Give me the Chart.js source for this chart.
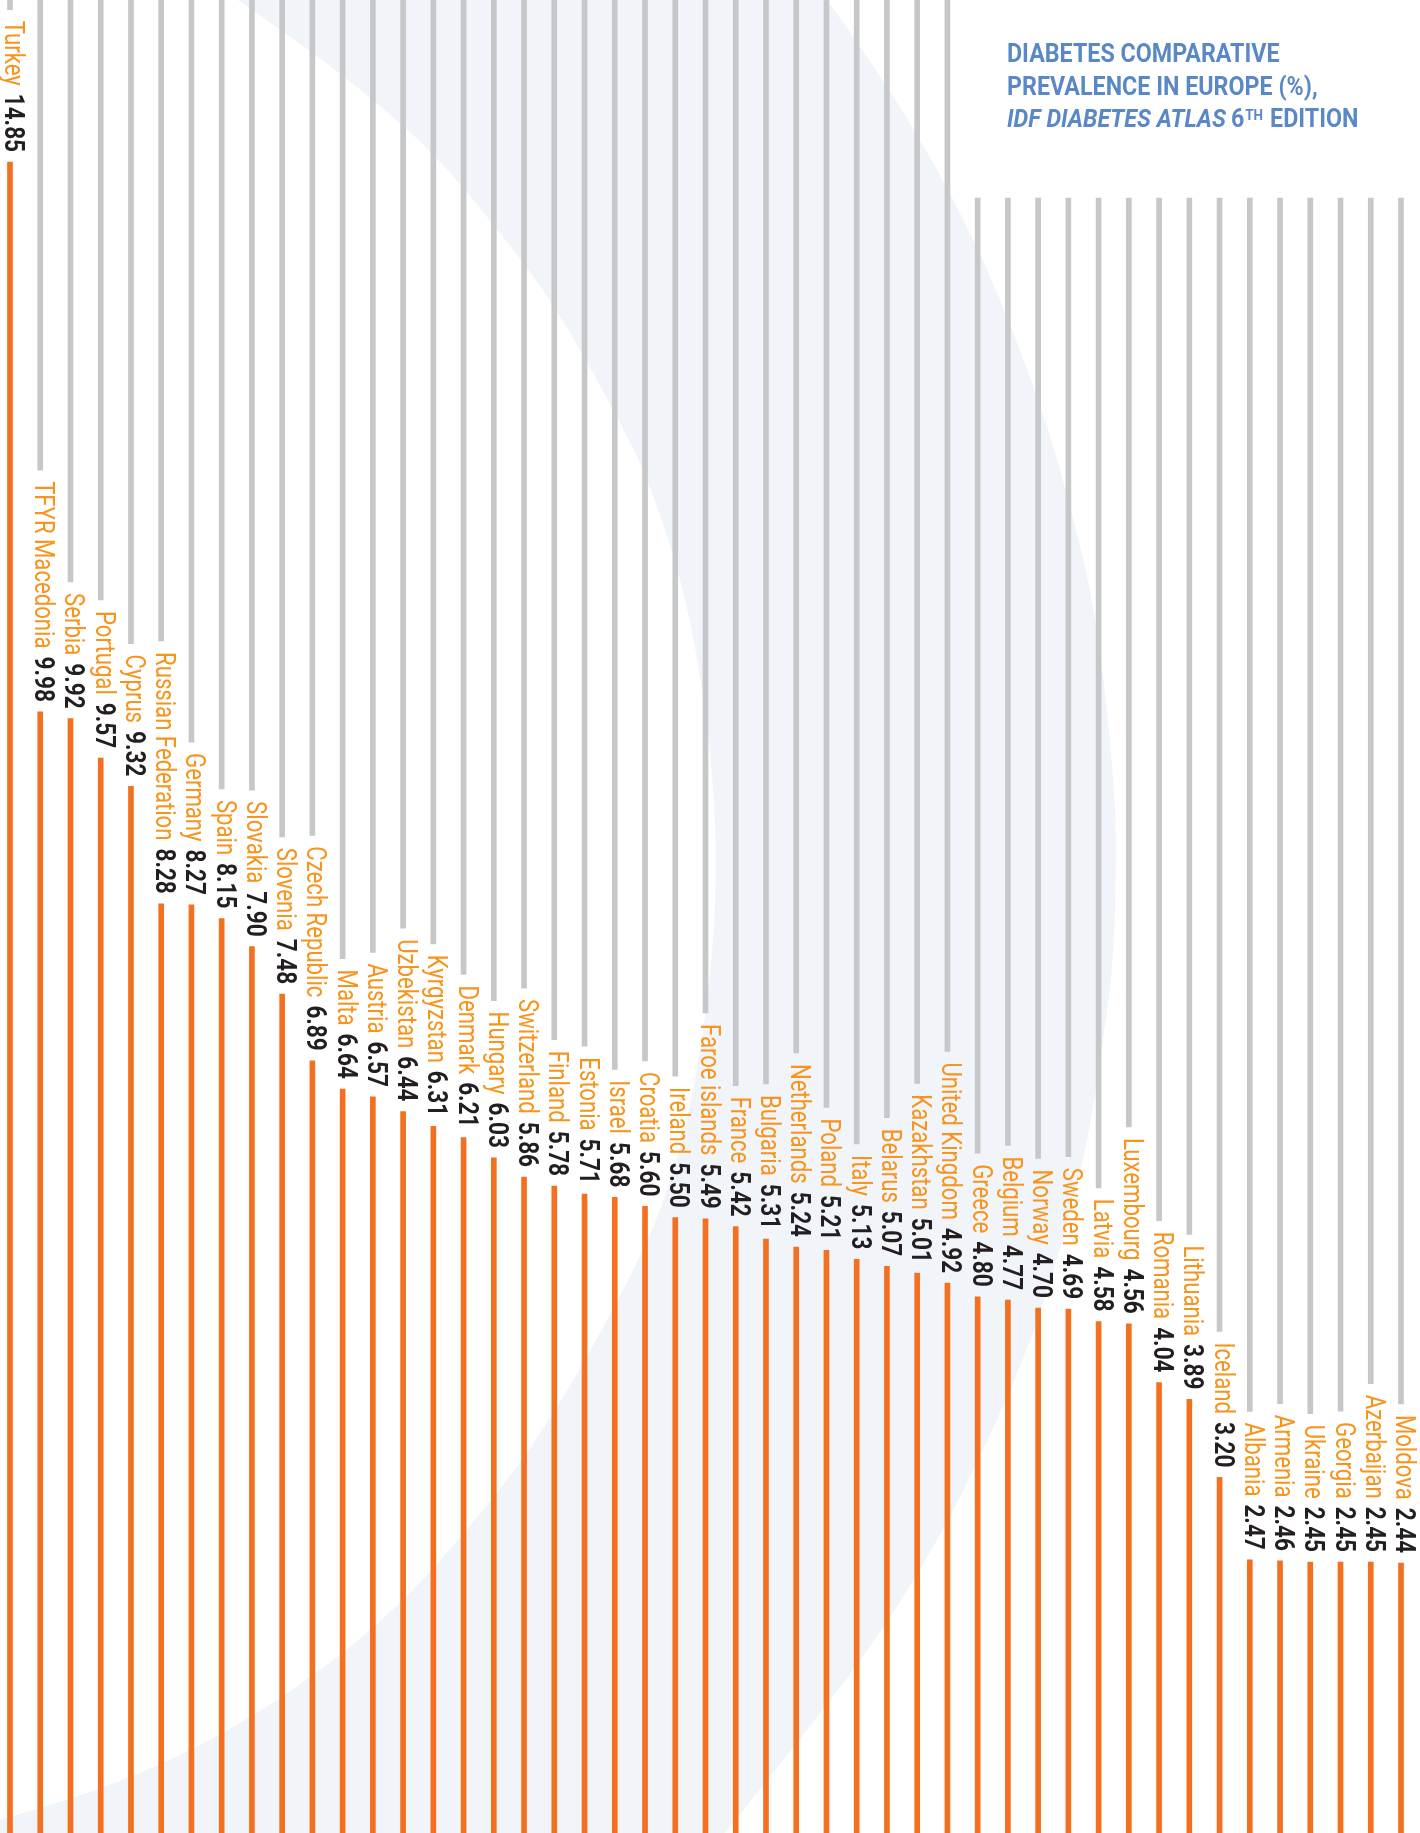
<!DOCTYPE html>
<html><head><meta charset="utf-8">
<script src="https://cdn.jsdelivr.net/npm/chart.js@4.4.1/dist/chart.umd.min.js"></script>
<style>html,body{margin:0;padding:0;background:#fff;overflow:hidden}#wrap{width:1420px;height:1833px;position:relative}</style>
</head><body><div id="wrap"><canvas id="c" width="1420" height="1833"></canvas></div>
<script>
// ---------- data ----------
const countries = ['Turkey','TFYR Macedonia','Serbia','Portugal','Cyprus','Russian Federation','Germany','Spain','Slovakia','Slovenia','Czech Republic','Malta','Austria','Uzbekistan','Kyrgyzstan','Denmark','Hungary','Switzerland','Finland','Estonia','Israel','Croatia','Ireland','Faroe islands','France','Bulgaria','Netherlands','Poland','Italy','Belarus','Kazakhstan','United Kingdom','Greece','Belgium','Norway','Sweden','Latvia','Luxembourg','Romania','Lithuania','Iceland','Albania','Armenia','Ukraine','Georgia','Azerbaijan','Moldova'];
const prevalence = [14.85,9.98,9.92,9.57,9.32,8.28,8.27,8.15,7.90,7.48,6.89,6.64,6.57,6.44,6.31,6.21,6.03,5.86,5.78,5.71,5.68,5.60,5.50,5.49,5.42,5.31,5.24,5.21,5.13,5.07,5.01,4.92,4.80,4.77,4.70,4.69,4.58,4.56,4.04,3.89,3.20,2.47,2.46,2.45,2.45,2.45,2.44];
const titleLines = ['DIABETES COMPARATIVE','PREVALENCE IN EUROPE (%),'];
const titleItalic = 'IDF DIABETES ATLAS';
const titleEditionNum = '6';
const titleEditionSup = 'TH';
const titleEditionRest = 'EDITION';
const shortLineFrom = 'Greece';   // grey guide lines from here on start lower
const shortLineTop = 14.53;       // value level where those guide lines start
const yMin = 0.05, yMax = 16.285;

// ---------- styles ----------
const ORANGE = '#f37021', NAME_COL = '#f7941d', VALUE_COL = '#231f20', GREY = '#c6c7c9', BLUE = '#5a88c7', SWOOSH = '#f1f4f9';
const NAME_FONT = '400 27px Roboto', VALUE_FONT = '700 27.5px Roboto';
const SQUEEZE = 0.82, GAP_BAR = 10, GAP_NV = 8, GAP_GREY = 11;

function valueText(v){ return v.toFixed(2); }

function labelGeometry(chart, i){
  const ctx = chart.ctx;
  const bar = chart.getDatasetMeta(0).data[i];
  ctx.save();
  ctx.font = NAME_FONT; const wn = ctx.measureText(countries[i]).width * SQUEEZE;
  ctx.font = VALUE_FONT; const wv = ctx.measureText(valueText(prevalence[i])).width * SQUEEZE;
  ctx.restore();
  const valueEnd = bar.y - GAP_BAR;
  const valueStart = valueEnd - wv;
  const nameEnd = valueStart - GAP_NV;
  const nameStart = nameEnd - wn;
  return {x: bar.x, nameStart, valueStart, greyBottom: nameStart - GAP_GREY};
}

function drawRotated(ctx, text, x, y, font, color){
  ctx.save();
  ctx.translate(x, y);
  ctx.rotate(Math.PI/2);
  ctx.scale(SQUEEZE, 1);
  ctx.font = font; ctx.fillStyle = color;
  ctx.textAlign = 'left'; ctx.textBaseline = 'alphabetic';
  ctx.fillText(text, 0, 0);
  ctx.restore();
}

const swooshPlugin = {
  id: 'swoosh',
  beforeDraw(chart){
    const ctx = chart.ctx, sx = chart.width/1420, sy = chart.height/1833;
    const inner = [[238,0],[310,50],[375,101],[434,153],[492,222],[554,303],[616,414],[650,483],[688,601],[712,750],[718,900],[700,1067],[667,1200],[619,1300],[553,1416],[493,1500],[400,1607],[300,1687],[200,1747],[100,1790],[0,1820]];
    const outer = [[725,1833],[817,1718],[886,1626],[949,1521],[1006,1402],[1046,1300],[1087,1150],[1103,1040],[1113,968],[1117,853],[1113,767],[1097,617],[1067,491],[1033,382],[980,250],[918,134],[860,46],[827,0]];
    ctx.save();
    ctx.fillStyle = '#ffffff'; ctx.fillRect(0,0,chart.width,chart.height);
    ctx.fillStyle = SWOOSH;
    ctx.beginPath();
    const curve = (pts, first) => {
      if (first) ctx.moveTo(pts[0][0]*sx, pts[0][1]*sy); else ctx.lineTo(pts[0][0]*sx, pts[0][1]*sy);
      for (let k=1;k<pts.length-1;k++){
        const mx=(pts[k][0]+pts[k+1][0])/2, my=(pts[k][1]+pts[k+1][1])/2;
        ctx.quadraticCurveTo(pts[k][0]*sx, pts[k][1]*sy, mx*sx, my*sy);
      }
      const l = pts[pts.length-1]; ctx.lineTo(l[0]*sx, l[1]*sy);
    };
    curve(inner, true);
    ctx.lineTo(0, chart.height);
    curve(outer, false);
    ctx.closePath();
    ctx.fill();
    ctx.restore();
  }
};

const labelPlugin = {
  id: 'barLabels',
  afterDatasetsDraw(chart){
    const ctx = chart.ctx;
    countries.forEach((c,i)=>{
      const g = labelGeometry(chart, i);
      drawRotated(ctx, c, g.x - 5, g.nameStart, NAME_FONT, NAME_COL);
      drawRotated(ctx, valueText(prevalence[i]), g.x - 5, g.valueStart, VALUE_FONT, VALUE_COL);
    });
  }
};

const titlePlugin = {
  id: 'titleBlock',
  afterDraw(chart){
    const ctx = chart.ctx;
    const x0 = 1007, sq = 0.895, lh = 32.5, base = 62;
    ctx.save();
    ctx.fillStyle = BLUE; ctx.textBaseline = 'alphabetic'; ctx.textAlign = 'left';
    const put = (txt, x, y, font) => {
      ctx.save(); ctx.translate(x, y); ctx.scale(sq, 1); ctx.font = font; ctx.fillText(txt, 0, 0);
      const w = ctx.measureText(txt).width * sq; ctx.restore(); return w;
    };
    titleLines.forEach((t, k)=> put(t, x0, base + k*lh, '700 26px Roboto'));
    const y3 = base + 2*lh;
    let x = x0;
    x += put(titleItalic, x, y3, 'italic 700 26px Roboto') + 5;
    x += put(titleEditionNum, x, y3, '700 26px Roboto') + 1;
    x += put(titleEditionSup, x, y3 - 7.5, '700 15px Roboto') + 7;
    put(titleEditionRest, x, y3, '700 26px Roboto');
    ctx.restore();
  }
};

const shortIdx = countries.indexOf(shortLineFrom);

const chart = new Chart(document.getElementById('c'), {
  type: 'bar',
  data: {
    labels: countries,
    datasets: [
      { label: 'Prevalence (%)', data: prevalence, backgroundColor: ORANGE, barThickness: 5, borderWidth: 0, grouped: false, clip: false, order: 1 },
      { label: 'guide', data: countries.map(()=>null), backgroundColor: GREY, barThickness: 5, borderWidth: 0, grouped: false, clip: false, order: 2 }
    ]
  },
  options: {
    responsive: false,
    animation: false,
    devicePixelRatio: 1,
    layout: { padding: { left: 10, right: 19, top: 0, bottom: 0 } },
    scales: {
      x: { display: false, offset: false, grid: { display: false } },
      y: { display: false, min: yMin, max: yMax, grid: { display: false } }
    },
    plugins: { legend: { display: false }, tooltip: { enabled: false }, title: { display: false } }
  },
  plugins: [swooshPlugin, labelPlugin, titlePlugin]
});

// compute grey guide lines from the label extents, via the y scale
const ys = chart.scales.y;
chart.data.datasets[1].data = countries.map((c,i)=>{
  const g = labelGeometry(chart, i);
  const bottom = ys.getValueForPixel(g.greyBottom);
  const top = i >= shortIdx ? shortLineTop : yMax;
  return bottom < top ? [bottom, top] : null;
});
chart.update();
</script></body></html>
